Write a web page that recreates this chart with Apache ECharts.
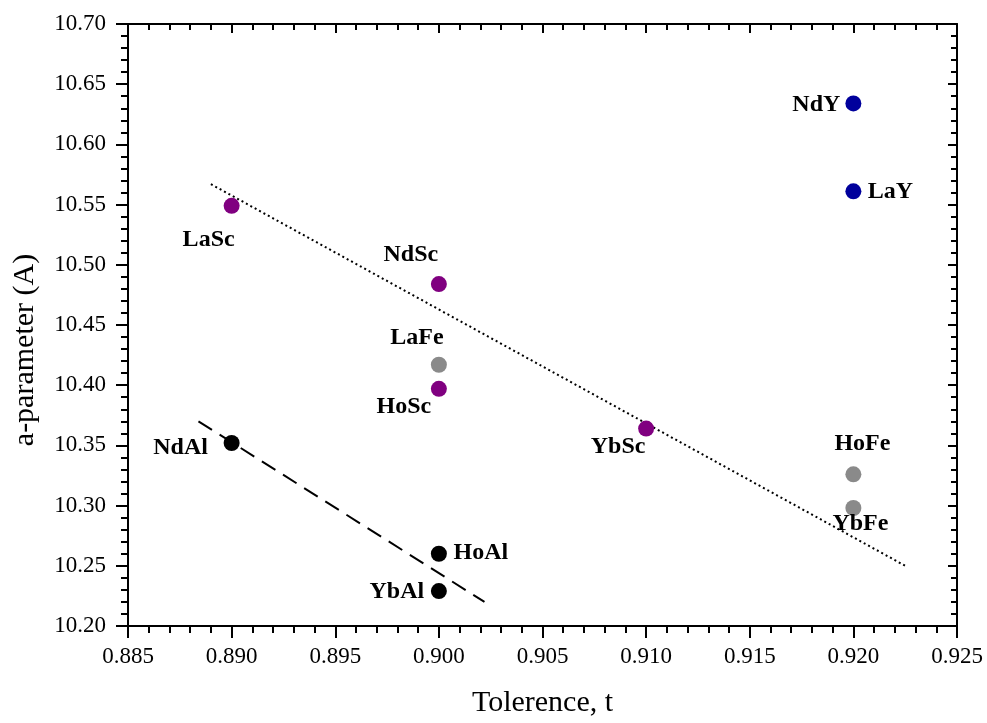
<!DOCTYPE html>
<html>
<head>
<meta charset="utf-8">
<title>a-parameter vs tolerance</title>
<script src="https://cdn.jsdelivr.net/npm/echarts@6/dist/echarts.min.js"></script>
<style>
  html, body { margin: 0; padding: 0; background: #fff; }
  #chart { width: 987px; height: 723px; }
</style>
</head>
<body>
<div id="chart"></div>
<script>
// 数据点
var names = ['NdY', 'LaY', 'LaSc', 'NdSc', 'HoSc', 'YbSc', 'LaFe', 'HoFe', 'YbFe', 'NdAl', 'HoAl', 'YbAl'];
var tolerance = [0.920, 0.920, 0.890, 0.900, 0.900, 0.910, 0.900, 0.920, 0.920, 0.890, 0.900, 0.900];
var aParam = [10.634, 10.561, 10.549, 10.484, 10.397, 10.364, 10.417, 10.326, 10.298, 10.352, 10.260, 10.229];
var groups = ['Y', 'Y', 'Sc', 'Sc', 'Sc', 'Sc', 'Fe', 'Fe', 'Fe', 'Al', 'Al', 'Al'];

// 拟合线端点
var fitScT = [0.8890, 0.9225];
var fitScA = [10.567, 10.250];
var fitAlT = [0.8884, 0.9022];
var fitAlA = [10.370, 10.220];

// 样式
var groupColors = { Y: '#00009c', Sc: '#800080', Fe: '#8a8a8a', Al: '#000000' };
var labelOffset = {
  NdY: [-37, 1], LaY: [37, 0], LaSc: [-23, 34], NdSc: [-28, -29], HoSc: [-35, 18], YbSc: [-28, 18],
  LaFe: [-22, -27], HoFe: [9, -30], YbFe: [7, 16], NdAl: [-51, 5], HoAl: [42, -1], YbAl: [-42, 1]
};
var serif = 'Liberation Serif, Times New Roman, serif';

var chart = echarts.init(document.getElementById('chart'));

// 坐标轴
function axisBase(extra) {
  var a = {
    type: 'value',
    splitLine: { show: false },
    axisLine: { show: true, onZero: false, lineStyle: { color: '#000', width: 2 } },
    axisTick: { show: true, length: 12, lineStyle: { color: '#000', width: 2 } },
    minorTick: { show: true, splitNumber: 5, length: 7, lineStyle: { color: '#000', width: 2 } },
    axisLabel: { color: '#000', fontFamily: serif, fontSize: 23 }
  };
  return Object.assign(a, extra);
}

var xCommon = { min: 0.885, max: 0.925, interval: 0.005 };
var yCommon = { min: 10.2, max: 10.7, interval: 0.05 };

var xAxes = [
  axisBase(Object.assign({
    position: 'bottom',
    name: 'Tolerence, t',
    nameLocation: 'middle',
    nameGap: 62,
    nameTextStyle: { color: '#000', fontFamily: serif, fontSize: 30 },
    axisLabel: {
      color: '#000', fontFamily: serif, fontSize: 23, margin: 19,
      formatter: function (v) { return v.toFixed(3); }
    }
  }, xCommon)),
  axisBase(Object.assign({
    position: 'top',
    axisLabel: { show: false },
    axisTick: { show: true, inside: true, length: 9, lineStyle: { color: '#000', width: 2 } },
    minorTick: { show: true, splitNumber: 5, length: 6, lineStyle: { color: '#000', width: 2 } }
  }, xCommon))
];

var yAxes = [
  axisBase(Object.assign({
    position: 'left',
    name: 'a-parameter (A)',
    nameLocation: 'middle',
    nameGap: 88,
    nameTextStyle: { color: '#000', fontFamily: serif, fontSize: 30, padding: [0, 50, 0, 0] },
    axisLabel: {
      color: '#000', fontFamily: serif, fontSize: 23, margin: 22,
      formatter: function (v) { return v.toFixed(2); }
    }
  }, yCommon)),
  axisBase(Object.assign({
    position: 'right',
    axisLabel: { show: false },
    axisTick: { show: true, inside: true, length: 9, lineStyle: { color: '#000', width: 2 } },
    minorTick: { show: true, splitNumber: 5, length: 6, lineStyle: { color: '#000', width: 2 } }
  }, yCommon))
];

// 散点
var series = [];
['Y', 'Sc', 'Fe', 'Al'].forEach(function (g) {
  var pts = [];
  for (var i = 0; i < names.length; i++) {
    if (groups[i] !== g) continue;
    pts.push({
      name: names[i],
      value: [tolerance[i], aParam[i]],
      label: { offset: labelOffset[names[i]] }
    });
  }
  series.push({
    type: 'scatter',
    name: g,
    data: pts,
    symbolSize: 16,
    itemStyle: { color: groupColors[g], opacity: 1 },
    z: 3,
    label: {
      show: true,
      position: 'inside',
      formatter: '{b}',
      color: '#000',
      opacity: 1,
      fontFamily: serif,
      fontWeight: 'bold',
      fontSize: 24
    }
  });
});

// 拟合线
series.push({
  type: 'line',
  name: 'fitSc',
  data: [[fitScT[0], fitScA[0]], [fitScT[1], fitScA[1]]],
  symbol: 'none',
  z: 2,
  lineStyle: { color: '#000', width: 2, type: [2, 3] }
});
series.push({
  type: 'line',
  name: 'fitAl',
  data: [[fitAlT[0], fitAlA[0]], [fitAlT[1], fitAlA[1]]],
  symbol: 'none',
  z: 2,
  lineStyle: { color: '#000', width: 2, type: [16, 9] }
});

var option = {
  backgroundColor: '#fff',
  animation: false,
  grid: { left: 128, right: 30, top: 24, bottom: 91 },
  xAxis: xAxes,
  yAxis: yAxes,
  series: series
};

chart.setOption(option);
</script>
</body>
</html>
